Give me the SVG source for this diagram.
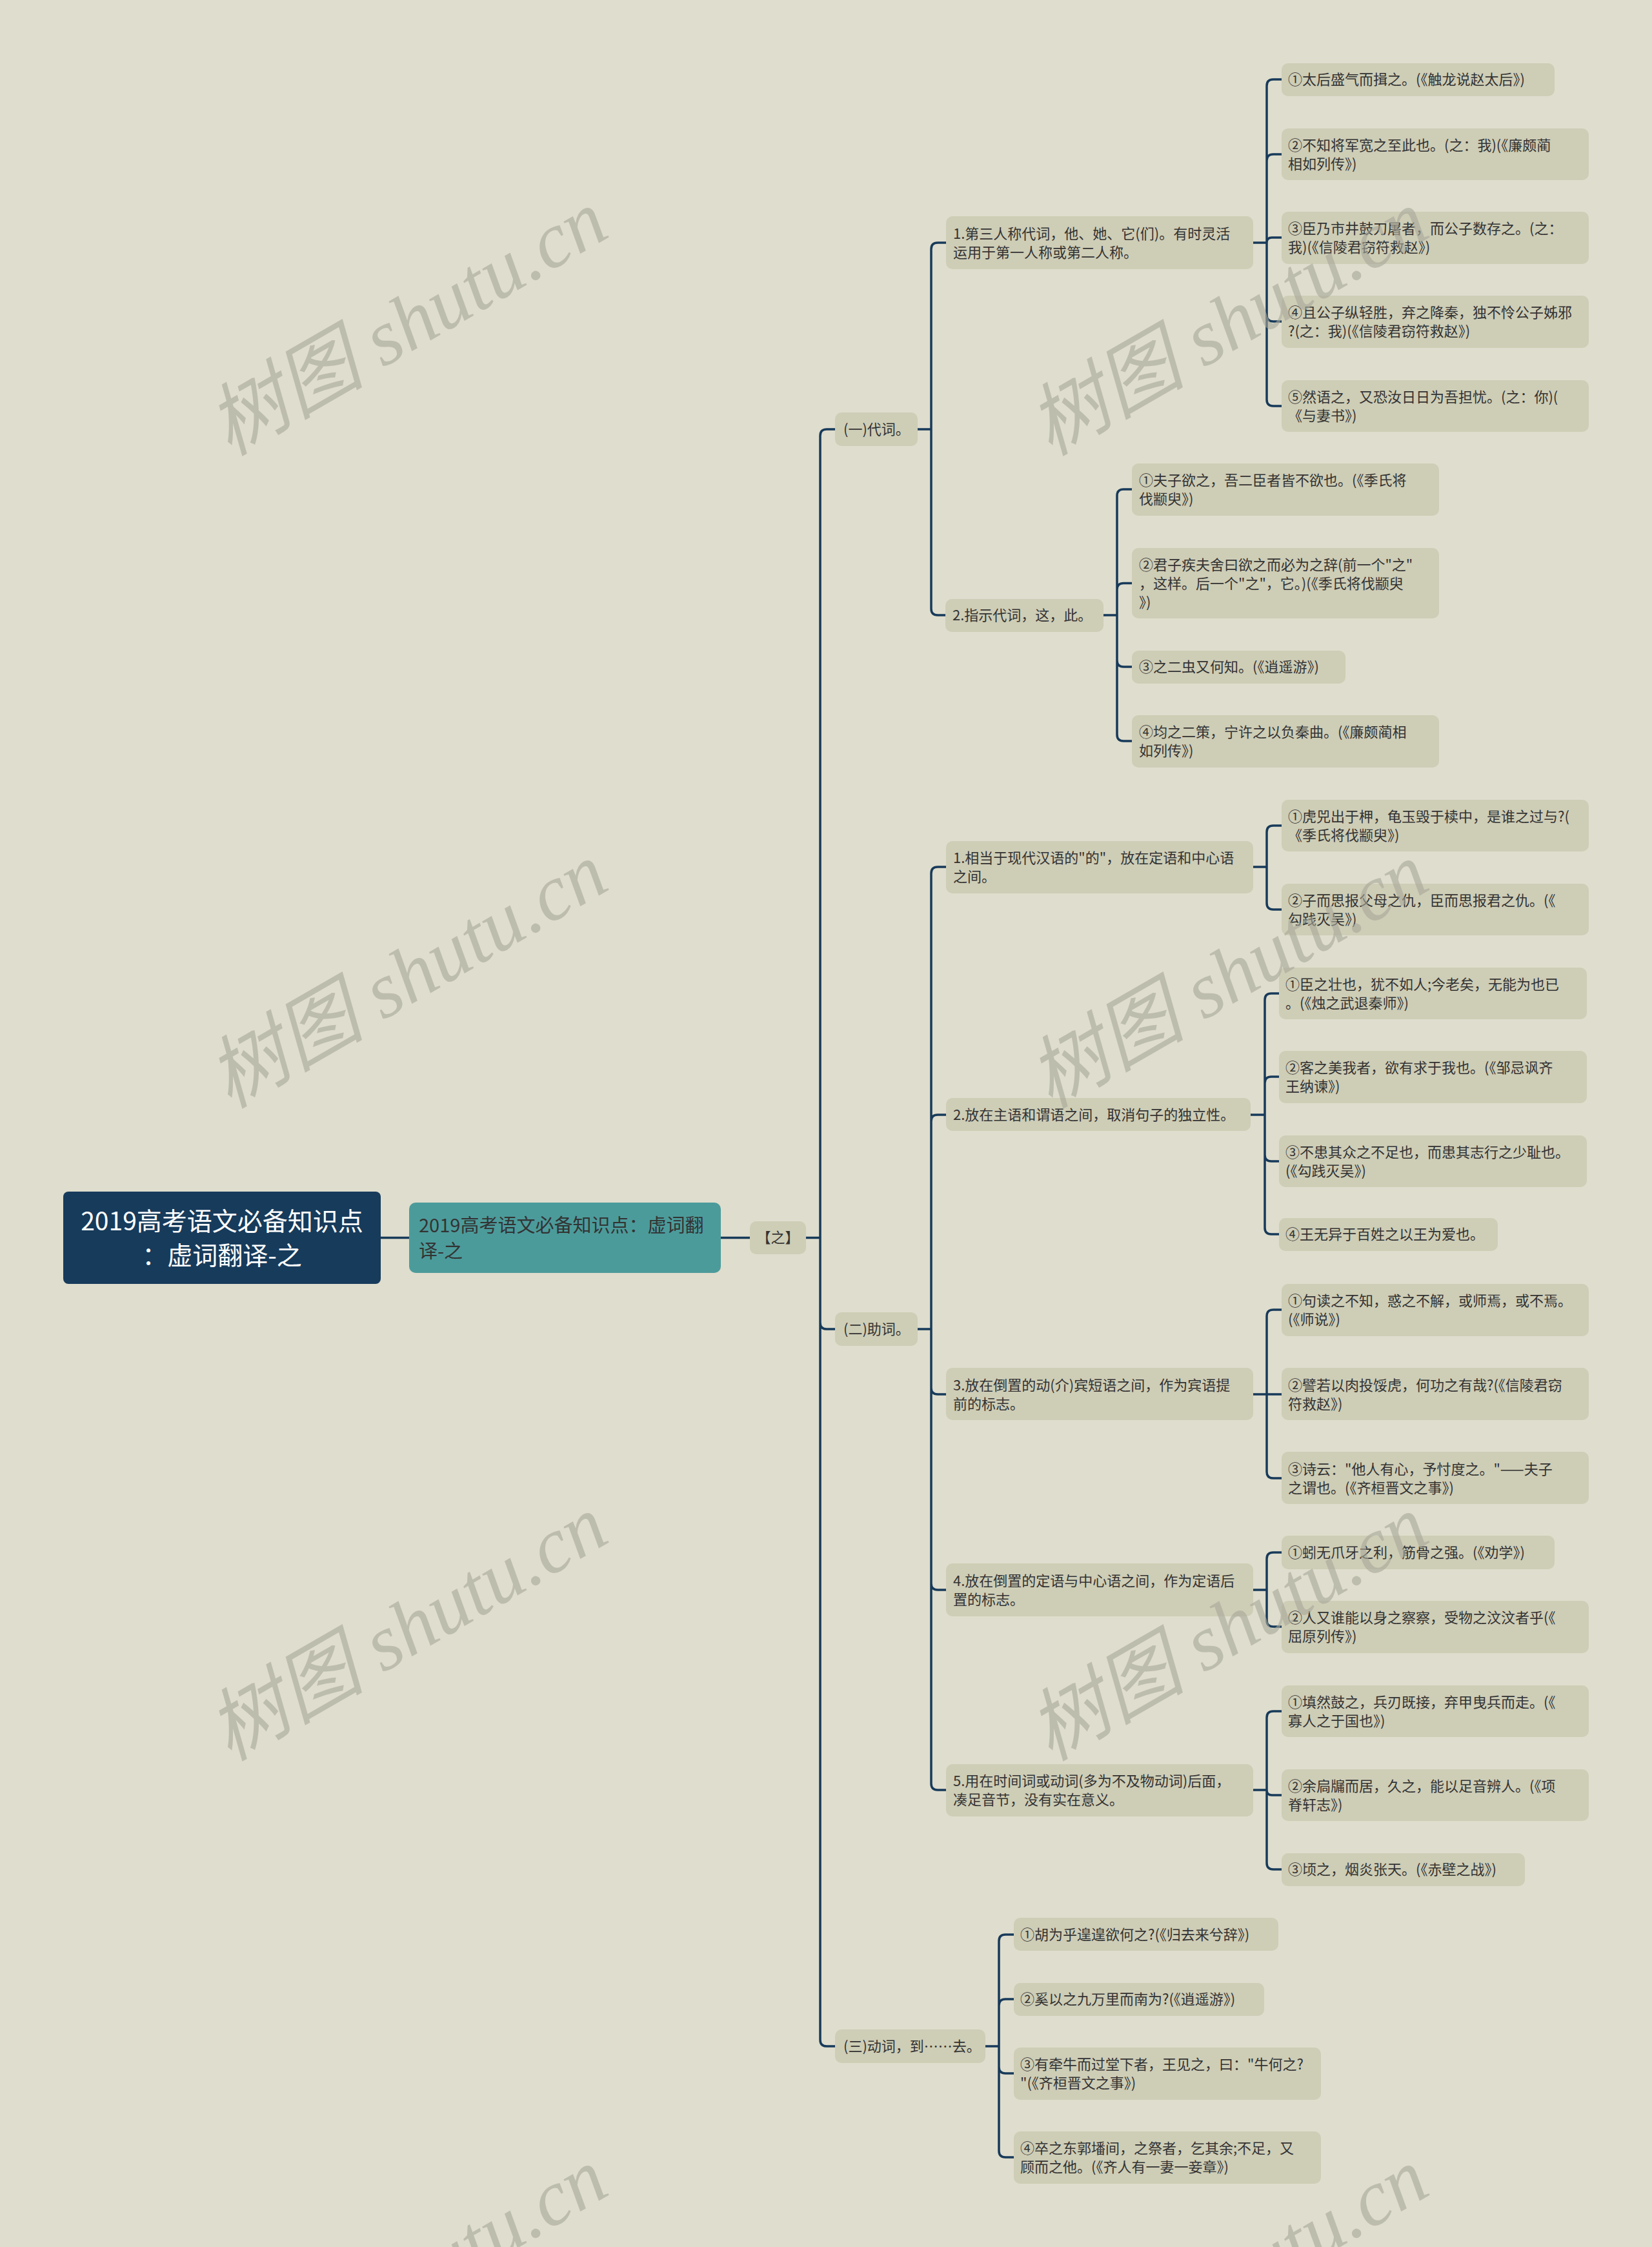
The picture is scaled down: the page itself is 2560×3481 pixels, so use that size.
<svg xmlns="http://www.w3.org/2000/svg" width="2560" height="3481" viewBox="0 0 2560 3481">
<style>
.t{font-family:"Noto Sans CJK SC","Noto Sans",sans-serif;font-size:22px;fill:#333333}
.leaf{fill:#cecdb6}
.conn{fill:none;stroke:#173a5a;stroke-width:3.5;stroke-linecap:round}
.wm{font-family:"Liberation Serif","Noto Sans CJK SC",serif;font-style:italic;font-size:122px;fill:#a8a89a;opacity:0.6}
</style>
<rect x="0" y="0" width="2560" height="3481" fill="#dfddcd"/>
<g id="connectors" class="conn">
<path d="M590 1917.5 H634"/>
<path d="M1117 1917.5 H1162"/>
<path d="M1249 1917.5 H1271 M1271 1917.5 V675 Q1271 665 1281 665 H1294 M1271 1917.5 V2049 Q1271 2059 1281 2059 H1294 M1271 1917.5 V3160 Q1271 3170 1281 3170 H1294"/>
<path d="M1422 665 H1443 M1443 665 V386 Q1443 376 1453 376 H1466 M1443 665 V943 Q1443 953 1453 953 H1465"/>
<path d="M1942 376 H1963 M1963 376 V133 Q1963 123 1973 123 H1986 M1963 376 V249 Q1963 239 1973 239 H1986 M1963 376 Q1963 368 1971 368 H1986 M1963 376 V488 Q1963 498 1973 498 H1986 M1963 376 V619 Q1963 629 1973 629 H1986"/>
<path d="M1710 953 H1731 M1731 953 V768 Q1731 758 1741 758 H1754 M1731 953 V913.5 Q1731 903.5 1741 903.5 H1754 M1731 953 V1023 Q1731 1033 1741 1033 H1754 M1731 953 V1138 Q1731 1148 1741 1148 H1754"/>
<path d="M1422 2059 H1443 M1443 2059 V1353 Q1443 1343 1453 1343 H1466 M1443 2059 V1737 Q1443 1727 1453 1727 H1466 M1443 2059 V2150 Q1443 2160 1453 2160 H1466 M1443 2059 V2453 Q1443 2463 1453 2463 H1466 M1443 2059 V2763 Q1443 2773 1453 2773 H1466"/>
<path d="M1942 1343 H1963 M1963 1343 V1289 Q1963 1279 1973 1279 H1986 M1963 1343 V1399 Q1963 1409 1973 1409 H1986"/>
<path d="M1938 1727 H1960 M1960 1727 V1549 Q1960 1539 1970 1539 H1982 M1960 1727 V1678 Q1960 1668 1970 1668 H1982 M1960 1727 V1789 Q1960 1799 1970 1799 H1982 M1960 1727 V1902 Q1960 1912 1970 1912 H1982"/>
<path d="M1942 2160 H1986 M1963 2160 V2039 Q1963 2029 1973 2029 H1986 M1963 2160 V2280 Q1963 2290 1973 2290 H1986"/>
<path d="M1942 2463 H1963 M1963 2463 V2415 Q1963 2405 1973 2405 H1986 M1963 2463 V2510 Q1963 2520 1973 2520 H1986"/>
<path d="M1942 2773 H1963 M1963 2773 V2661 Q1963 2651 1973 2651 H1986 M1963 2773 Q1963 2781 1971 2781 H1986 M1963 2773 V2886 Q1963 2896 1973 2896 H1986"/>
<path d="M1527 3170 H1548 M1548 3170 V3007 Q1548 2997 1558 2997 H1571 M1548 3170 V3107 Q1548 3097 1558 3097 H1571 M1548 3170 V3202 Q1548 3212 1558 3212 H1571 M1548 3170 V3332 Q1548 3342 1558 3342 H1571"/>
</g>
<g id="root">
<rect x="98" y="1846" width="492" height="143" rx="8" fill="#173b5b"/>
<text x="344" y="1906" text-anchor="middle" style="font-family:'Noto Sans CJK SC','Noto Sans',sans-serif;font-size:39px;fill:#ffffff">2019高考语文必备知识点</text>
<text x="344" y="1959" text-anchor="middle" style="font-family:'Noto Sans CJK SC','Noto Sans',sans-serif;font-size:39px;fill:#ffffff">：虚词翻译-之</text>
</g>
<g id="n-main">
<rect x="634" y="1863" width="483" height="109" rx="10" fill="#4c9b9b"/>
<text x="649" y="1909" class="t" style="font-size:29px">2019高考语文必备知识点：虚词翻</text>
<text x="649" y="1949" class="t" style="font-size:29px">译-之</text>
</g>
<g id="n-zhi">
<rect x="1162" y="1892" width="87" height="51" rx="10" class="leaf"/>
<text x="1205.5" y="1925" class="t" text-anchor="middle">【之】</text>
</g>
<g id="n-1">
<rect x="1294" y="639" width="128" height="52" rx="10" class="leaf"/>
<text x="1307" y="673" class="t">(一)代词。</text>
</g>
<g id="n-2">
<rect x="1294" y="2033" width="128" height="52" rx="10" class="leaf"/>
<text x="1307" y="2067" class="t">(二)助词。</text>
</g>
<g id="n-3">
<rect x="1294" y="3144" width="233" height="52" rx="10" class="leaf"/>
<text x="1307" y="3178" class="t">(三)动词，到……去。</text>
</g>
<g id="n-1-1">
<rect x="1466" y="335" width="476" height="82" rx="10" class="leaf"/>
<text x="1477" y="370" class="t">1.第三人称代词，他、她、它(们)。有时灵活</text>
<text x="1477" y="399" class="t">运用于第一人称或第二人称。</text>
</g>
<g id="n-1-2">
<rect x="1465" y="928" width="245" height="51" rx="10" class="leaf"/>
<text x="1476" y="961" class="t">2.指示代词，这，此。</text>
</g>
<g id="n-2-1">
<rect x="1466" y="1303" width="476" height="81" rx="10" class="leaf"/>
<text x="1477" y="1337" class="t">1.相当于现代汉语的"的"，放在定语和中心语</text>
<text x="1477" y="1366" class="t">之间。</text>
</g>
<g id="n-2-2">
<rect x="1466" y="1701" width="472" height="51" rx="10" class="leaf"/>
<text x="1477" y="1735" class="t">2.放在主语和谓语之间，取消句子的独立性。</text>
</g>
<g id="n-2-3">
<rect x="1466" y="2119" width="476" height="81" rx="10" class="leaf"/>
<text x="1477" y="2154" class="t">3.放在倒置的动(介)宾短语之间，作为宾语提</text>
<text x="1477" y="2183" class="t">前的标志。</text>
</g>
<g id="n-2-4">
<rect x="1466" y="2422" width="476" height="82" rx="10" class="leaf"/>
<text x="1477" y="2457" class="t">4.放在倒置的定语与中心语之间，作为定语后</text>
<text x="1477" y="2486" class="t">置的标志。</text>
</g>
<g id="n-2-5">
<rect x="1466" y="2733" width="476" height="81" rx="10" class="leaf"/>
<text x="1477" y="2767" class="t">5.用在时间词或动词(多为不及物动词)后面，</text>
<text x="1477" y="2796" class="t">凑足音节，没有实在意义。</text>
</g>
<g id="l-1-1-1">
<rect x="1986" y="98" width="423" height="51" rx="10" class="leaf"/>
<text x="1996" y="131" class="t">①太后盛气而揖之。(《触龙说赵太后》)</text>
</g>
<g id="l-1-1-2">
<rect x="1986" y="199" width="476" height="80" rx="10" class="leaf"/>
<text x="1996" y="233" class="t">②不知将军宽之至此也。(之：我)(《廉颇蔺</text>
<text x="1996" y="262" class="t">相如列传》)</text>
</g>
<g id="l-1-1-3">
<rect x="1986" y="328" width="476" height="81" rx="10" class="leaf"/>
<text x="1996" y="362" class="t">③臣乃市井鼓刀屠者，而公子数存之。(之：</text>
<text x="1996" y="391" class="t">我)(《信陵君窃符救赵》)</text>
</g>
<g id="l-1-1-4">
<rect x="1986" y="458" width="476" height="81" rx="10" class="leaf"/>
<text x="1996" y="492" class="t">④且公子纵轻胜，弃之降秦，独不怜公子姊邪</text>
<text x="1996" y="521" class="t">?(之：我)(《信陵君窃符救赵》)</text>
</g>
<g id="l-1-1-5">
<rect x="1986" y="589" width="476" height="80" rx="10" class="leaf"/>
<text x="1996" y="623" class="t">⑤然语之，又恐汝日日为吾担忧。(之：你)(</text>
<text x="1996" y="652" class="t">《与妻书》)</text>
</g>
<g id="l-1-2-1">
<rect x="1754" y="718" width="476" height="81" rx="10" class="leaf"/>
<text x="1765" y="752" class="t">①夫子欲之，吾二臣者皆不欲也。(《季氏将</text>
<text x="1765" y="781" class="t">伐颛臾》)</text>
</g>
<g id="l-1-2-2">
<rect x="1754" y="849" width="476" height="109" rx="10" class="leaf"/>
<text x="1765" y="883" class="t">②君子疾夫舍曰欲之而必为之辞(前一个"之"</text>
<text x="1765" y="912" class="t">，这样。后一个"之"，它。)(《季氏将伐颛臾</text>
<text x="1765" y="941" class="t">》)</text>
</g>
<g id="l-1-2-3">
<rect x="1754" y="1008" width="331" height="51" rx="10" class="leaf"/>
<text x="1765" y="1041" class="t">③之二虫又何知。(《逍遥游》)</text>
</g>
<g id="l-1-2-4">
<rect x="1754" y="1108" width="476" height="81" rx="10" class="leaf"/>
<text x="1765" y="1142" class="t">④均之二策，宁许之以负秦曲。(《廉颇蔺相</text>
<text x="1765" y="1171" class="t">如列传》)</text>
</g>
<g id="l-2-1-1">
<rect x="1986" y="1239" width="476" height="80" rx="10" class="leaf"/>
<text x="1996" y="1273" class="t">①虎兕出于柙，龟玉毁于椟中，是谁之过与?(</text>
<text x="1996" y="1302" class="t">《季氏将伐颛臾》)</text>
</g>
<g id="l-2-1-2">
<rect x="1986" y="1369" width="476" height="80" rx="10" class="leaf"/>
<text x="1996" y="1403" class="t">②子而思报父母之仇，臣而思报君之仇。(《</text>
<text x="1996" y="1432" class="t">勾践灭吴》)</text>
</g>
<g id="l-2-2-1">
<rect x="1982" y="1499" width="477" height="80" rx="10" class="leaf"/>
<text x="1992" y="1533" class="t">①臣之壮也，犹不如人;今老矣，无能为也已</text>
<text x="1992" y="1562" class="t">。(《烛之武退秦师》)</text>
</g>
<g id="l-2-2-2">
<rect x="1982" y="1628" width="477" height="81" rx="10" class="leaf"/>
<text x="1992" y="1662" class="t">②客之美我者，欲有求于我也。(《邹忌讽齐</text>
<text x="1992" y="1691" class="t">王纳谏》)</text>
</g>
<g id="l-2-2-3">
<rect x="1982" y="1759" width="477" height="80" rx="10" class="leaf"/>
<text x="1992" y="1793" class="t">③不患其众之不足也，而患其志行之少耻也。</text>
<text x="1992" y="1822" class="t">(《勾践灭吴》)</text>
</g>
<g id="l-2-2-4">
<rect x="1982" y="1887" width="339" height="51" rx="10" class="leaf"/>
<text x="1992" y="1920" class="t">④王无异于百姓之以王为爱也。</text>
</g>
<g id="l-2-3-1">
<rect x="1986" y="1989" width="476" height="81" rx="10" class="leaf"/>
<text x="1996" y="2023" class="t">①句读之不知，惑之不解，或师焉，或不焉。</text>
<text x="1996" y="2052" class="t">(《师说》)</text>
</g>
<g id="l-2-3-2">
<rect x="1986" y="2119" width="476" height="81" rx="10" class="leaf"/>
<text x="1996" y="2154" class="t">②譬若以肉投馁虎，何功之有哉?(《信陵君窃</text>
<text x="1996" y="2183" class="t">符救赵》)</text>
</g>
<g id="l-2-3-3">
<rect x="1986" y="2249" width="476" height="81" rx="10" class="leaf"/>
<text x="1996" y="2284" class="t">③诗云："他人有心，予忖度之。"——夫子</text>
<text x="1996" y="2313" class="t">之谓也。(《齐桓晋文之事》)</text>
</g>
<g id="l-2-4-1">
<rect x="1986" y="2379" width="423" height="52" rx="10" class="leaf"/>
<text x="1996" y="2413" class="t">①蚓无爪牙之利，筋骨之强。(《劝学》)</text>
</g>
<g id="l-2-4-2">
<rect x="1986" y="2480" width="476" height="81" rx="10" class="leaf"/>
<text x="1996" y="2514" class="t">②人又谁能以身之察察，受物之汶汶者乎(《</text>
<text x="1996" y="2543" class="t">屈原列传》)</text>
</g>
<g id="l-2-5-1">
<rect x="1986" y="2611" width="476" height="80" rx="10" class="leaf"/>
<text x="1996" y="2645" class="t">①填然鼓之，兵刃既接，弃甲曳兵而走。(《</text>
<text x="1996" y="2674" class="t">寡人之于国也》)</text>
</g>
<g id="l-2-5-2">
<rect x="1986" y="2741" width="476" height="80" rx="10" class="leaf"/>
<text x="1996" y="2775" class="t">②余扃牖而居，久之，能以足音辨人。(《项</text>
<text x="1996" y="2804" class="t">脊轩志》)</text>
</g>
<g id="l-2-5-3">
<rect x="1986" y="2871" width="377" height="51" rx="10" class="leaf"/>
<text x="1996" y="2904" class="t">③顷之，烟炎张天。(《赤壁之战》)</text>
</g>
<g id="l-3-1">
<rect x="1571" y="2971" width="410" height="51" rx="10" class="leaf"/>
<text x="1581" y="3005" class="t">①胡为乎遑遑欲何之?(《归去来兮辞》)</text>
</g>
<g id="l-3-2">
<rect x="1571" y="3072" width="388" height="51" rx="10" class="leaf"/>
<text x="1581" y="3105" class="t">②奚以之九万里而南为?(《逍遥游》)</text>
</g>
<g id="l-3-3">
<rect x="1571" y="3172" width="476" height="81" rx="10" class="leaf"/>
<text x="1581" y="3206" class="t">③有牵牛而过堂下者，王见之，曰："牛何之?</text>
<text x="1581" y="3235" class="t">"(《齐桓晋文之事》)</text>
</g>
<g id="l-3-4">
<rect x="1571" y="3302" width="476" height="81" rx="10" class="leaf"/>
<text x="1581" y="3336" class="t">④卒之东郭墦间，之祭者，乞其余;不足，又</text>
<text x="1581" y="3365" class="t">顾而之他。(《齐人有一妻一妾章》)</text>
</g>
<g id="watermarks">
<text class="wm" text-anchor="middle" transform="translate(652 536) rotate(-30)">树图 shutu.cn</text>
<text class="wm" text-anchor="middle" transform="translate(1924 536) rotate(-30)">树图 shutu.cn</text>
<text class="wm" text-anchor="middle" transform="translate(652 1547) rotate(-30)">树图 shutu.cn</text>
<text class="wm" text-anchor="middle" transform="translate(1924 1547) rotate(-30)">树图 shutu.cn</text>
<text class="wm" text-anchor="middle" transform="translate(652 2558) rotate(-30)">树图 shutu.cn</text>
<text class="wm" text-anchor="middle" transform="translate(1924 2558) rotate(-30)">树图 shutu.cn</text>
<text class="wm" text-anchor="middle" transform="translate(652 3569) rotate(-30)">树图 shutu.cn</text>
<text class="wm" text-anchor="middle" transform="translate(1924 3569) rotate(-30)">树图 shutu.cn</text>
</g>
</svg>
